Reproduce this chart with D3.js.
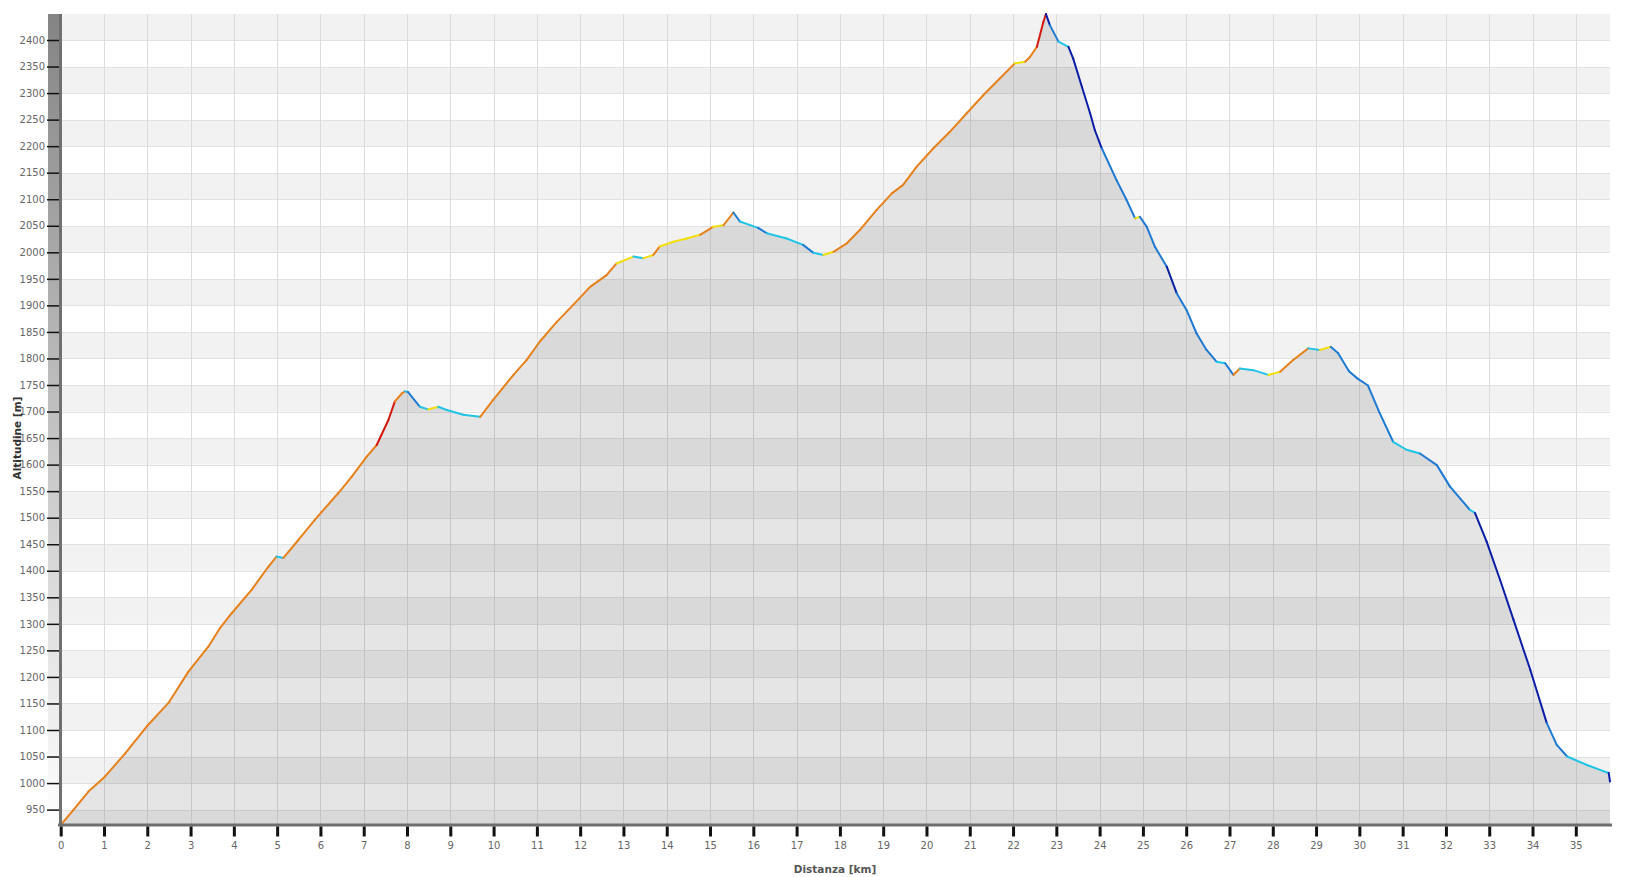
<!DOCTYPE html>
<html>
<head>
<meta charset="utf-8">
<script src="https://cdn.jsdelivr.net/npm/d3@7/dist/d3.min.js"></script>
<style>
  html, body { margin: 0; padding: 0; background: #ffffff; }
  svg { display: block; }
</style>
</head>
<body>
<svg id="chart" width="1638" height="877"></svg>
<script>
// ---- data ----
const distanceKm = [
  0.00, 0.30, 0.64, 1.02, 1.49, 1.99, 2.49, 2.95, 3.41, 3.68, 3.95, 4.41, 4.80, 4.99, 5.14,
  5.49, 5.87, 6.03, 6.41, 6.72, 7.07, 7.30, 7.57, 7.72, 7.88, 7.95, 8.02, 8.30, 8.49, 8.72,
  8.92, 9.30, 9.69, 9.99, 10.46, 10.76, 11.07, 11.46, 11.84, 12.23, 12.61, 12.84, 13.23, 13.46,
  13.69, 13.84, 14.15, 14.46, 14.77, 15.07, 15.31, 15.54, 15.69, 16.11, 16.31, 16.77, 17.15,
  17.39, 17.62, 17.85, 18.16, 18.46, 18.85, 19.20, 19.46, 19.77, 20.16, 20.54, 20.93, 21.31,
  21.70, 22.04, 22.28, 22.39, 22.55, 22.70, 22.76, 22.85, 23.05, 23.28, 23.39, 23.59, 23.78,
  23.89, 24.05, 24.39, 24.62, 24.82, 24.93, 25.09, 25.28, 25.55, 25.78, 26.01, 26.24, 26.47,
  26.70, 26.90, 27.09, 27.24, 27.55, 27.90, 28.17, 28.47, 28.82, 29.09, 29.34, 29.51, 29.76,
  29.96, 30.20, 30.46, 30.78, 31.09, 31.40, 31.79, 32.09, 32.55, 32.67, 32.94, 33.25, 33.56,
  33.95, 34.33, 34.56, 34.80, 35.26, 35.65, 35.76, 35.79
];
const altitudeM = [
  921, 950, 984, 1012, 1056, 1107, 1151, 1210, 1257, 1292, 1320, 1364, 1408, 1427, 1424,
  1458, 1496, 1511, 1546, 1577, 1615, 1637, 1684, 1719, 1734, 1738, 1737, 1709, 1704, 1709,
  1703, 1694, 1690, 1722, 1769, 1797, 1832, 1869, 1901, 1935, 1957, 1979, 1992, 1989,
  1995, 2011, 2020, 2026, 2033, 2048, 2051, 2075, 2058, 2046, 2036, 2026, 2014,
  1999, 1995, 2001, 2017, 2042, 2080, 2111, 2127, 2161, 2196, 2227, 2262, 2296,
  2328, 2356, 2359, 2368, 2387, 2434, 2449, 2428, 2397, 2387, 2365, 2312, 2262,
  2230, 2196, 2136, 2099, 2064, 2067, 2048, 2010, 1973, 1923, 1891, 1847, 1816,
  1794, 1791, 1769, 1781, 1778, 1769, 1775, 1797, 1819, 1816, 1822, 1810, 1776,
  1762, 1749, 1699, 1643, 1628, 1621, 1599, 1559, 1515, 1509, 1455, 1383, 1308,
  1213, 1113, 1072, 1050, 1034, 1022, 1019, 1003
];
const xTickValues = d3.range(0, 36, 1);
const yTickValues = d3.range(950, 2401, 50);
const gradeThresholds = [-20, -5, 0, 4, 15];          // percent
const gradeColors = ["#0b1fa6", "#1f7ad2", "#22c4e6", "#f3df10", "#e6811c", "#d3180e"];
const xTitle = "Distanza [km]";
const yTitle = "Altitudine [m]";

// ---- layout ----
const svg = d3.select("#chart");
const plotLeft = 60.7, plotRight = 1610, plotTop = 14, plotBottom = 825;

const points = distanceKm.map((d, i) => ({ d: d, a: altitudeM[i] }));
const x = d3.scaleLinear().domain([0, d3.max(distanceKm)]).range([plotLeft, plotRight]);
const y = d3.scaleLinear().domain(d3.extent(altitudeM)).range([plotBottom, plotTop]);
const color = d3.scaleThreshold().domain(gradeThresholds).range(gradeColors);

// gradient for the left axis bar
const defs = svg.append("defs");
const lg = defs.append("linearGradient").attr("id", "barGrad")
  .attr("x1", 0).attr("y1", 0).attr("x2", 0).attr("y2", 1);
lg.append("stop").attr("offset", "0%").attr("stop-color", "#848484");
lg.append("stop").attr("offset", "100%").attr("stop-color", "#ffffff");

// horizontal bands
const bandStarts = d3.range(900, 2450, 50);
const [yMin, yMax] = y.domain();
svg.append("g").selectAll("rect").data(bandStarts).join("rect")
  .attr("x", 62)
  .attr("width", plotRight - 62)
  .attr("y", v => y(Math.min(v + 50, yMax)))
  .attr("height", v => Math.max(0, y(Math.max(v, yMin)) - y(Math.min(v + 50, yMax))))
  .attr("fill", v => (Math.round(v / 50) % 2 === 0) ? "#f2f2f2" : "#ffffff");

// horizontal grid lines
svg.append("g").selectAll("line").data(yTickValues).join("line")
  .attr("x1", 62).attr("x2", plotRight)
  .attr("y1", v => Math.round(y(v)) + 0.5).attr("y2", v => Math.round(y(v)) + 0.5)
  .attr("stroke", "#e1e1e1").attr("stroke-width", 1);

// vertical grid lines
svg.append("g").selectAll("line").data(xTickValues.filter(v => v > 0)).join("line")
  .attr("x1", v => Math.round(x(v)) + 0.5).attr("x2", v => Math.round(x(v)) + 0.5)
  .attr("y1", plotTop).attr("y2", plotBottom)
  .attr("stroke", "#dcdcdc").attr("stroke-width", 1);

// area
const area = d3.area().x(p => x(p.d)).y0(plotBottom).y1(p => y(p.a));
svg.append("path").datum(points).attr("d", area).attr("fill", "rgba(0,0,0,0.1)");

// coloured profile line (by grade)
const segs = d3.pairs(points).map(([p, q]) => ({
  p: p, q: q, g: (q.a - p.a) / ((q.d - p.d) * 1000) * 100
}));
svg.append("g").selectAll("line").data(segs).join("line")
  .attr("x1", s => x(s.p.d)).attr("y1", s => y(s.p.a))
  .attr("x2", s => x(s.q.d)).attr("y2", s => y(s.q.a))
  .attr("stroke", s => color(s.g))
  .attr("stroke-width", 2)
  .attr("stroke-linecap", "round");

// left axis bar
svg.append("rect").attr("x", 48).attr("y", plotTop).attr("width", 11)
  .attr("height", plotBottom - plotTop).attr("fill", "url(#barGrad)");
svg.append("rect").attr("x", 59).attr("y", plotTop).attr("width", 3)
  .attr("height", plotBottom - plotTop + 1).attr("fill", "#707070");

// y axis
const yAxis = svg.append("g").attr("transform", "translate(59,0)")
  .call(d3.axisLeft(y).tickValues(yTickValues).tickSize(12).tickPadding(2).tickFormat(d3.format("d")));
yAxis.select(".domain").remove();
yAxis.selectAll(".tick line").attr("stroke", "#111").attr("stroke-width", 1.5);
yAxis.selectAll(".tick text").attr("fill", "#666")
  .style("font-family", "'DejaVu Sans', Verdana, sans-serif").style("font-size", "10px");

// x axis baseline
svg.append("rect").attr("x", 58).attr("y", plotBottom - 1.5).attr("width", plotRight + 2 - 58)
  .attr("height", 3).attr("fill", "#6e6e6e");

// x axis
const xAxis = svg.append("g").attr("transform", `translate(0,${plotBottom + 1.5})`)
  .call(d3.axisBottom(x).tickValues(xTickValues).tickSize(10).tickPadding(5).tickFormat(d3.format("d")));
xAxis.select(".domain").remove();
xAxis.selectAll(".tick line").attr("stroke", "#111").attr("stroke-width", 3);
xAxis.selectAll(".tick text").attr("fill", "#666")
  .style("font-family", "'DejaVu Sans', Verdana, sans-serif").style("font-size", "10px");

// titles
svg.append("text").attr("x", 835).attr("y", 873).attr("text-anchor", "middle")
  .attr("fill", "#555").style("font-family", "'DejaVu Sans', Verdana, sans-serif")
  .style("font-size", "10.5px").style("font-weight", "bold").text(xTitle);
svg.append("text").attr("transform", "translate(21,438) rotate(-90)").attr("text-anchor", "middle")
  .attr("fill", "#333").style("font-family", "'DejaVu Sans', Verdana, sans-serif")
  .style("font-size", "10.5px").style("font-weight", "bold").text(yTitle);
</script>
</body>
</html>
